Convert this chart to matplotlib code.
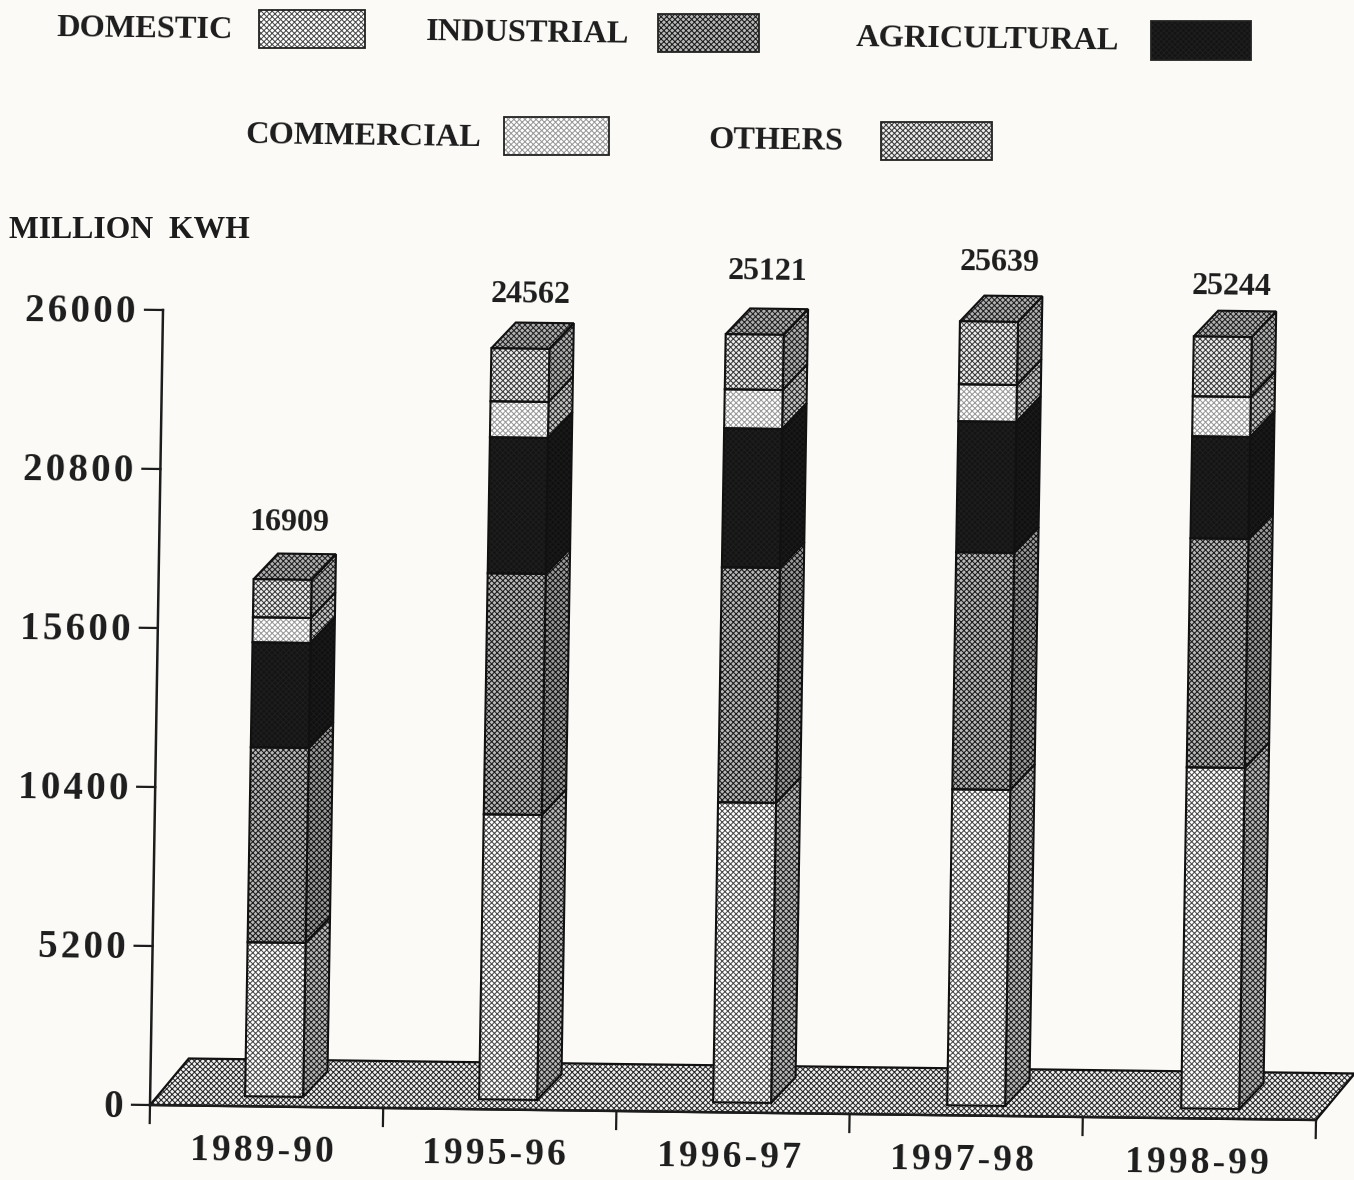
import numpy as np
import matplotlib
matplotlib.use("Agg")
import matplotlib.pyplot as plt
from matplotlib.patches import Polygon, Rectangle
from matplotlib.transforms import Affine2D

W, H = 1354, 1180
plt.rcParams['hatch.linewidth'] = 0.75

# ---- data -----------------------------------------------------------
years = ['1989-90', '1995-96', '1996-97', '1997-98', '1998-99']
totals = [16909, 24562, 25121, 25639, 25244]
domestic = [5036, 9320, 9811, 10335, 11152]
industrial = [6377, 7882, 7686, 7751, 7489]
agricultural = [3434, 4448, 4546, 4284, 3336]
commercial = [818, 1177, 1275, 1210, 1308]
others = [1244, 1735, 1803, 2059, 1959]
y_ticks = [0, 5200, 10400, 15600, 20800, 26000]
series_names = ['DOMESTIC', 'INDUSTRIAL', 'AGRICULTURAL', 'COMMERCIAL', 'OTHERS']
series = [domestic, industrial, agricultural, commercial, others]

# ---- styling ---------------------------------------------------------
PAPER = '#fbfaf7'
INK = '#1c1c1c'
HATCH = 'xxxxxx'
#        face       dots       hatch     side face  side dots
style = {
    'DOMESTIC': ('#ffffff', '#4c4c4c', HATCH, '#b8b8b8', '#222222'),
    'INDUSTRIAL': ('#b8b8b8', '#1c1c1c', HATCH, '#9a9a9a', '#141414'),
    'AGRICULTURAL': ('#141414', '#1e1e1e', HATCH, '#101010', '#1a1a1a'),
    'COMMERCIAL': ('#ffffff', '#9a9a9a', HATCH, '#c4c4c4', '#2a2a2a'),
    'OTHERS': ('#ececec', '#3c3c3c', HATCH, '#b0b0b0', '#222222'),
}
SERIF = ['Liberation Serif', 'DejaVu Serif']

fig = plt.figure(figsize=(W / 100, H / 100), dpi=100, facecolor=PAPER)
ax = fig.add_axes([0, 0, 1, 1])
ax.axis('off')

# scan geometry: 233.2 px per category, 795 px per 26000 units, slightly skewed
PX_U = 233.2
PX_V = 795 / 26000
ax.set_xlim(-150 / PX_U, (W - 150) / PX_U)
ax.set_ylim(-(H - 1105) / PX_V, 1105 / PX_V)
skew = Affine2D(np.array([[1, (13 / PX_U) / 26000, 0],
                          [-(3 / PX_V), 1, 0],
                          [0, 0, 1]]))
T = skew + ax.transData
px = Affine2D().scale(1, -1).translate(0, H)   # layout items in image pixels
TILT = -0.75


def du(p):
    return p / PX_U


def dv(p):
    return p / PX_V


def face(pts, key, side=False, z=3, transform=T):
    f, d, h, sf, sd = style[key]
    fc, hc = (sf, sd) if side else (f, d)
    ax.add_patch(Polygon(pts, closed=True, facecolor=fc, edgecolor=hc, hatch=h,
                         lw=0, transform=transform, zorder=z))
    ax.add_patch(Polygon(pts, closed=True, fill=False, edgecolor='#111111',
                         lw=1.5, transform=transform, zorder=z + 0.1))


# ---- floor -----------------------------------------------------------
fd_u, fd_v = du(38), dv(47)
floor = [(0, 0), (5, 0), (5 + fd_u, fd_v), (fd_u, fd_v)]
ax.add_patch(Polygon(floor, closed=True, facecolor='#f0f0f0', edgecolor='#2a2a2a',
                     hatch=HATCH, lw=0, transform=T, zorder=1))
ax.add_patch(Polygon(floor, closed=True, fill=False, edgecolor='#111111', lw=1.6,
                     transform=T, zorder=1.1))

# ---- axes lines ------------------------------------------------------
ax.plot([0, 0], [0, y_ticks[-1]], color=INK, lw=1.8, transform=T, zorder=2)
ax.plot([0, 5], [0, 0], color=INK, lw=1.8, transform=T, zorder=2)
for t in y_ticks:
    ax.plot([du(-18), 0], [t, t], color=INK, lw=1.6, transform=T, zorder=2)
    ax.text(du(-27), t - dv(3), '\u200a'.join(str(t)), transform=T, ha='right', va='center',
            family=SERIF, weight='bold', fontsize=28, color=INK,
            rotation=TILT, rotation_mode='anchor')
for i in range(6):
    ax.plot([i, i], [0, dv(-18)], color=INK, lw=1.6, transform=T, zorder=2)

# ---- 3-D stacked bars ------------------------------------------------
bar_w = du(58)
depth_u, depth_v = du(24), dv(26)
base = dv(10)
lefts = 0.407 + np.arange(len(years)) * 1.0035
label_gap = [57, 54, 63, 59, 50]
label_dx = [35, 38, 41, 39, 37]
xlabel_u = [0.485, 1.48, 2.487, 3.486, 4.494]

for i, (x, year) in enumerate(zip(lefts, years)):
    bottom = base
    for name, vals in zip(series_names, series):
        top = bottom + vals[i]
        face([(x, bottom), (x + bar_w, bottom), (x + bar_w, top), (x, top)], name, z=5)
        face([(x + bar_w, bottom), (x + bar_w + depth_u, bottom + depth_v),
              (x + bar_w + depth_u, top + depth_v), (x + bar_w, top)], name, side=True, z=4)
        bottom = top
    face([(x, bottom), (x + bar_w, bottom), (x + bar_w + depth_u, bottom + depth_v),
          (x + depth_u, bottom + depth_v)], 'OTHERS', side=True, z=4)
    ax.text(x + du(label_dx[i]), bottom + dv(label_gap[i]), str(totals[i]), transform=T,
            ha='center', va='center', family=SERIF, weight='bold', fontsize=23,
            color=INK, rotation=TILT, rotation_mode='anchor')
    ax.text(xlabel_u[i], dv(-45), '\u200a'.join(year), transform=T, ha='center', va='center',
            family=SERIF, weight='bold', fontsize=27, color=INK,
            rotation=TILT, rotation_mode='anchor')

# ---- legend ----------------------------------------------------------
legend_layout = [
    ('DOMESTIC', 56, 29, 259, 10, 106, 38),
    ('INDUSTRIAL', 426, 33, 658, 14, 101, 38),
    ('AGRICULTURAL', 856, 39, 1151, 21, 100, 39),
    ('COMMERCIAL', 245, 136, 504, 117, 105, 38),
    ('OTHERS', 708, 141, 881, 122, 111, 38),
]
for name, tx, ty, bx, by, bw, bh in legend_layout:
    ax.text(tx, ty, name, transform=px, ha='left', va='center', family=SERIF,
            weight='bold', fontsize=23.3, color=INK, rotation=TILT, rotation_mode='anchor')
    f, d, h, sf, sd = style[name]
    ax.add_patch(Rectangle((bx, by), bw, bh, facecolor=f, edgecolor=d, hatch=h, lw=0,
                           transform=px, zorder=3))
    ax.add_patch(Rectangle((bx, by), bw, bh, fill=False, edgecolor='#222222', lw=1.3,
                           transform=px, zorder=3.1))

ax.text(9, 231, 'MILLION\u2002KWH', transform=px, ha='left', va='center', family=SERIF,
        weight='bold', fontsize=22.8, color=INK)

fig.savefig('out.png', dpi=100, facecolor=PAPER)
